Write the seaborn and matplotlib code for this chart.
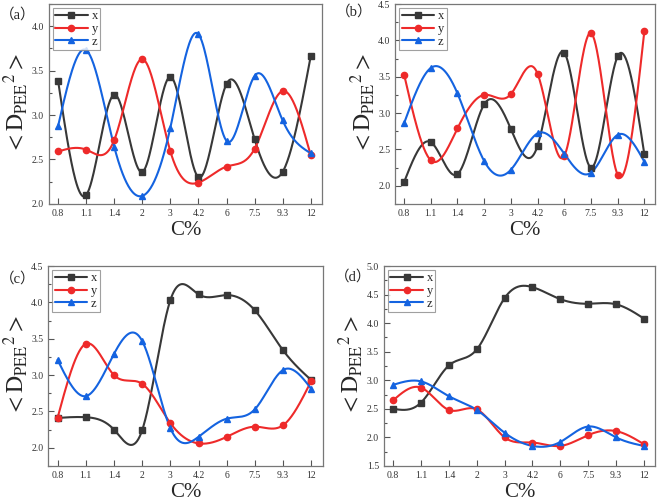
import numpy as np
import pandas as pd
import matplotlib
matplotlib.use("Agg")
import matplotlib.pyplot as plt
from matplotlib.lines import Line2D
from matplotlib.ticker import MultipleLocator, FormatStrFormatter
import seaborn as sns

sns.set_style("ticks")
plt.rcParams['font.family'] = ['Liberation Serif', 'Noto Sans CJK SC', 'DejaVu Serif']
plt.rcParams['mathtext.fontset'] = 'stix'

# C% categories (x axis)
c_labels = ['0.8', '1.1', '1.4', '2', '3', '4.2', '6', '7.5', '9.3', '12']

# panel (a)
a_x = [3.38, 2.10, 3.23, 2.36, 3.43, 2.30, 3.35, 2.73, 2.36, 3.66]
a_y = [2.59, 2.61, 2.72, 3.63, 2.59, 2.24, 2.42, 2.62, 3.27, 2.55]
a_z = [2.88, 3.73, 2.64, 2.09, 2.86, 3.91, 2.71, 3.44, 2.94, 2.57]

# panel (b)
b_x = [2.05, 2.60, 2.16, 3.12, 2.78, 2.55, 3.83, 2.25, 3.78, 2.43]
b_y = [3.53, 2.35, 2.79, 3.25, 3.26, 3.54, 2.41, 4.10, 2.15, 4.13]
b_z = [2.86, 3.62, 3.27, 2.34, 2.22, 2.72, 2.44, 2.18, 2.70, 2.33]

# panel (c)
c_x = [2.41, 2.42, 2.25, 2.24, 4.03, 4.11, 4.10, 3.89, 3.34, 2.93]
c_y = [2.41, 3.43, 3.00, 2.88, 2.34, 2.06, 2.15, 2.29, 2.31, 2.92]
c_z = [3.21, 2.71, 3.29, 3.47, 2.27, 2.15, 2.40, 2.53, 3.07, 2.81]

# panel (d)
d_x = [2.50, 2.61, 3.26, 3.54, 4.44, 4.63, 4.42, 4.34, 4.33, 4.08]
d_y = [2.65, 2.87, 2.48, 2.49, 2.00, 1.91, 1.85, 2.04, 2.11, 1.88]
d_z = [2.92, 2.98, 2.72, 2.48, 2.08, 1.85, 1.92, 2.19, 2.00, 1.85]

# label, data, ylim, axes rect, panel-label position (figure fraction)
panels = [
    ('（a）', a_x, a_y, a_z, (2.0, 4.25), [0.074, 0.593, 0.413, 0.399], (0.000, 0.970)),
    ('（b）', b_x, b_y, b_z, (1.75, 4.5), [0.598, 0.593, 0.393, 0.399], (0.508, 0.976)),
    ('（c）', c_x, c_y, c_z, (1.75, 4.5), [0.073, 0.070, 0.415, 0.399], (0.000, 0.444)),
    ('（d）', d_x, d_y, d_z, (1.5, 5.0), [0.581, 0.070, 0.410, 0.399], (0.506, 0.448)),
]

colors = {'x': '#383838', 'y': '#ee2a2a', 'z': '#1463e0'}
markers = {'x': 's', 'y': 'o', 'z': '^'}


def spline_curve(vals, n=400):
    # natural cubic spline through the points (Origin "spline" connect)
    y = np.asarray(vals, float)
    m = len(y)
    A = np.zeros((m, m))
    r = np.zeros(m)
    A[0, 0] = A[-1, -1] = 1
    for i in range(1, m - 1):
        A[i, i - 1], A[i, i], A[i, i + 1] = 1, 4, 1
        r[i] = 6 * (y[i + 1] - 2 * y[i] + y[i - 1])
    M = np.linalg.solve(A, r)
    xs = np.linspace(0, m - 1, n)
    idx = np.clip(np.floor(xs).astype(int), 0, m - 2)
    t = xs - idx
    ys = ((1 - t) * y[idx] + t * y[idx + 1]
          + ((1 - t) ** 3 - (1 - t)) * M[idx] / 6
          + (t ** 3 - t) * M[idx + 1] / 6)
    return xs, ys


fig = plt.figure(figsize=(6.61, 5.01), dpi=100)

for label, sx, sy, sz, ylim, pos, lpos in panels:
    ax = fig.add_axes(pos)
    handles = []
    for name, vals in (('x', sx), ('y', sy), ('z', sz)):
        xs, ys = spline_curve(vals)
        curve = pd.DataFrame({'pos': xs, 'val': ys})
        sns.lineplot(data=curve, x='pos', y='val', ax=ax, color=colors[name],
                     linewidth=1.5, sort=False, estimator=None)
        ax.plot(np.arange(len(vals)), vals, linestyle='none', marker=markers[name],
                color=colors[name], markersize=4.5, zorder=3)
        handles.append(Line2D([], [], color=colors[name], marker=markers[name],
                              markersize=4.5, linewidth=1.5, label=name))
    ax.set_xlim(-0.33, 9.4)
    ax.set_ylim(*ylim)
    ax.set_xticks(range(len(c_labels)))
    ax.set_xticklabels(c_labels)
    ax.yaxis.set_major_locator(MultipleLocator(0.5))
    ax.yaxis.set_minor_locator(MultipleLocator(0.25))
    ax.yaxis.set_major_formatter(FormatStrFormatter('%.1f'))
    ax.tick_params(direction='in', labelsize=7, length=4, width=0.8,
                   colors='#555555', labelcolor='#333333')
    ax.tick_params(axis='y', which='minor', direction='in', length=2.5,
                   width=0.8, colors='#555555')
    for sp in ax.spines.values():
        sp.set_visible(True)
        sp.set_color('#777777')
        sp.set_linewidth(0.9)
    ax.set_xlabel('C%', fontsize=15, labelpad=2)
    ax.set_ylabel(r'${<}\mathrm{D}_{\mathrm{PEE}}{}^{2}{>}$', fontsize=17, labelpad=1)
    leg = ax.legend(handles=handles, loc='upper left', fontsize=9,
                    frameon=True, fancybox=False, edgecolor='#888888',
                    borderpad=0.2, labelspacing=0.05, handlelength=2.6,
                    handletextpad=0.3, borderaxespad=0.3)
    leg.get_frame().set_linewidth(0.8)
    fig.text(lpos[0], lpos[1], label, fontsize=10.5, ha='left', va='center',
             family=['Liberation Serif', 'Noto Sans CJK SC'])

fig.savefig('out.png', dpi=100)
